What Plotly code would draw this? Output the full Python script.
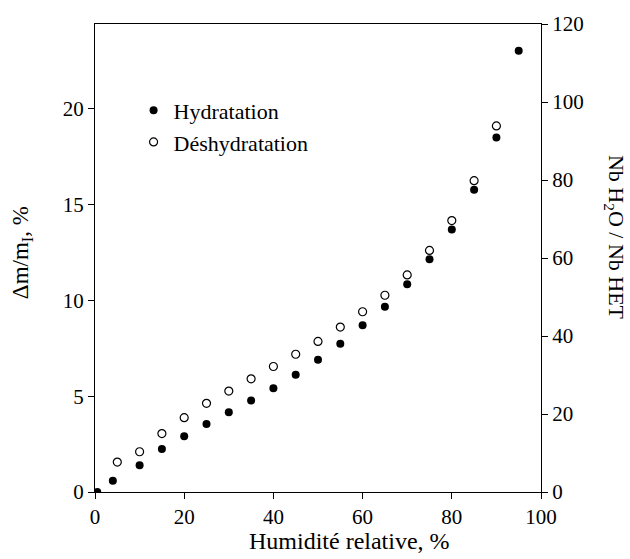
import plotly.graph_objects as go

# Relative humidity steps (%) and mass gain (%) for each branch
rh_hydratation = [0.5, 4, 10, 15, 20, 25, 30, 35, 40, 45, 50, 55, 60, 65, 70, 75, 80, 85, 90, 95]
dm_hydratation = [0.0, 0.59, 1.4, 2.25, 2.91, 3.55, 4.16, 4.77, 5.42, 6.12, 6.91, 7.74, 8.70, 9.67,
                  10.85, 12.15, 13.7, 15.78, 18.5, 23.04]

rh_deshydratation = [5, 10, 15, 20, 25, 30, 35, 40, 45, 50, 55, 60, 65, 70, 75, 80, 85, 90]
dm_deshydratation = [1.56, 2.10, 3.05, 3.88, 4.63, 5.27, 5.91, 6.55, 7.19, 7.86, 8.61, 9.41, 10.27,
                     11.33, 12.61, 14.17, 16.25, 19.11]

x_ticks = [0, 20, 40, 60, 80, 100]
left_ticks = [0, 5, 10, 15, 20]
right_ticks = [0, 20, 40, 60, 80, 100, 120]

FONT = "Liberation Serif"

fig = go.Figure()
fig.add_trace(go.Scatter(
    x=rh_hydratation, y=dm_hydratation, mode="markers", name="Hydratation",
    marker=dict(symbol="circle", size=8, color="black", line=dict(width=0)),
))
fig.add_trace(go.Scatter(
    x=rh_deshydratation, y=dm_deshydratation, mode="markers", name="Déshydratation",
    marker=dict(symbol="circle-open", size=8, color="black", line=dict(width=1.2)),
))
# secondary scale: number of water molecules per HET
fig.add_trace(go.Scatter(x=[None], y=[None], yaxis="y2", showlegend=False, hoverinfo="skip"))


def axis_style():
    return dict(
        showgrid=False, zeroline=False, showline=True, linecolor="black", linewidth=1.3,
        ticks="outside", ticklen=6, tickwidth=1.3, tickcolor="black",
        tickfont=dict(family=FONT, size=21, color="black"),
    )


fig.update_layout(
    width=630, height=559,
    margin=dict(l=95, r=89, t=22, b=67),
    paper_bgcolor="white", plot_bgcolor="white",
    xaxis=dict(range=[0, 100], tickvals=x_ticks, mirror=True, **axis_style()),
    yaxis=dict(range=[0, 24.43], tickvals=left_ticks, **axis_style()),
    yaxis2=dict(range=[0, 120], tickvals=right_ticks, overlaying="y", side="right", **axis_style()),
    showlegend=True,
    legend=dict(x=0.0865, y=0.86, xanchor="left", yanchor="top", bgcolor="rgba(0,0,0,0)",
                font=dict(family=FONT, size=22, color="black"), itemwidth=30, tracegroupgap=0),
    annotations=[
        dict(text="Humidité relative, %", x=(349 - 95) / 446, xref="paper", y=-0.104, yref="paper",
             xanchor="center", yanchor="middle", showarrow=False,
             font=dict(family=FONT, size=24, color="black")),
        dict(text="Δm/m<sub>I</sub>, %", x=-0.163, xref="paper", y=0.511, yref="paper",
             xanchor="center", yanchor="middle", textangle=-90, showarrow=False,
             font=dict(family=FONT, size=23, color="black")),
        dict(text="Nb H<sub>2</sub>O / Nb HET", x=1.166, xref="paper", y=0.545, yref="paper",
             xanchor="center", yanchor="middle", textangle=90, showarrow=False,
             font=dict(family=FONT, size=22, color="black")),
    ],
)

fig.write_html("out.html")
